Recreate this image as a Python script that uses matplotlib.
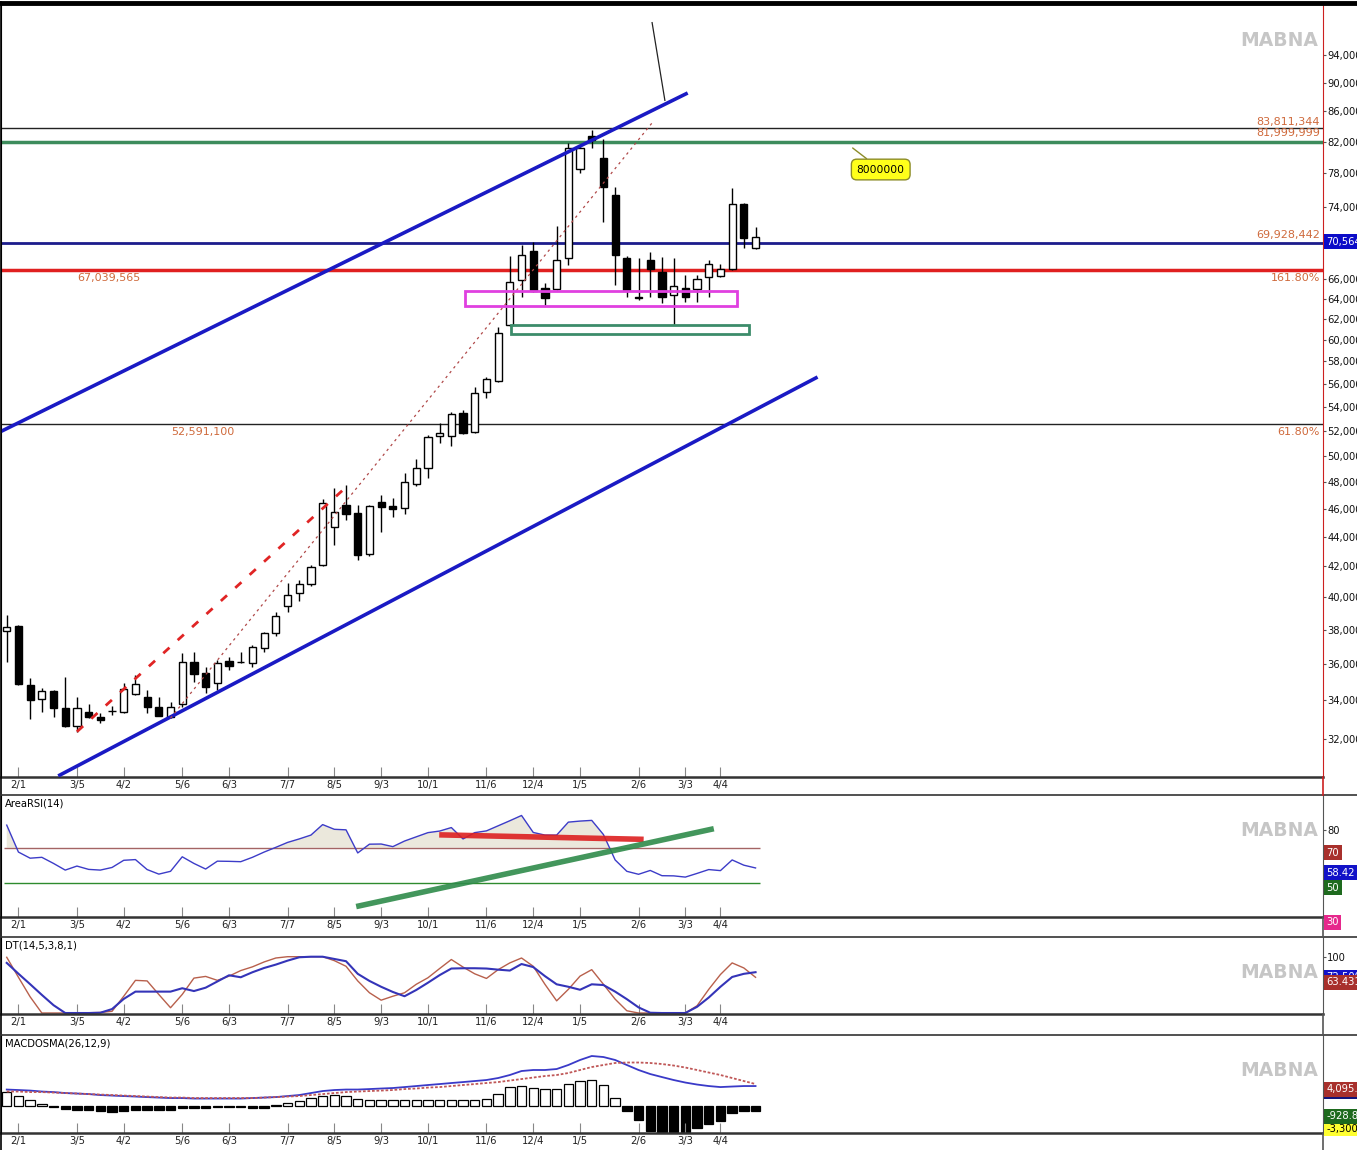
import numpy as np
import matplotlib
matplotlib.use('Agg')
import matplotlib.pyplot as plt
from matplotlib import font_manager
from matplotlib.lines import Line2D
from matplotlib.patches import Rectangle
from matplotlib.ticker import NullLocator

# weekly candles, prices in thousands
opens = [37940, 38220, 34830, 34070, 34500, 33590, 32650, 33380, 33120, 33430,
         33380, 34340, 34180, 33650, 33120, 33800, 36110, 35490, 34940, 36170,
         36110, 36060, 36920, 37810, 39440, 40260, 40820, 42080, 44680, 46250,
         45670, 42820, 46470, 46180, 46030, 47810, 49030, 51570, 51570, 53470,
         51890, 55270, 56230, 61420, 65940, 69020, 65120, 65020, 68260, 78550,
         82730, 79920, 75390, 68260, 64190, 68040, 66770, 64390, 65120, 65020,
         66260, 66360, 67080, 74330, 69340]
highs = [38900, 38300, 35220, 34670, 34550, 35270, 34180, 33800, 33330, 33700,
         34940, 35380, 34560, 34180, 33910, 36630, 36690, 35830, 36230, 36400,
         36690, 37100, 37860, 39070, 40890, 41080, 42080, 46690, 47500, 47730,
         46250, 46250, 46980, 46760, 48640, 49730, 51650, 52630, 53550, 53720,
         55700, 56590, 61230, 68480, 69670, 70010, 65640, 71800, 81830, 81440,
         83520, 82340, 76350, 68480, 68260, 68910, 68380, 68260, 66460, 66460,
         68040, 67620, 76230, 74400, 71690]
lows = [36130, 34830, 33010, 33380, 33120, 32600, 32340, 33060, 32800, 33220,
        33330, 34300, 33330, 33150, 33060, 33650, 35000, 34400, 34560, 35660,
        36060, 35830, 36690, 37630, 39070, 39750, 40700, 42010, 43430, 45170,
        42420, 42690, 44330, 45380, 45600, 47660, 48250, 51000, 50760, 51730,
        51800, 54750, 56140, 61320, 64190, 64710, 63400, 64910, 67510, 78050,
        81190, 72250, 65420, 64190, 63890, 64190, 63590, 61420, 63690, 63690,
        64190, 66260, 66990, 69340, 69230]
closes = [38180, 34890, 34020, 34500, 33590, 32650, 33590, 33120, 32960, 33450,
          34610, 34890, 33650, 33170, 33650, 36110, 35440, 34720, 36060, 35890,
          36130, 36980, 37810, 38830, 40130, 40820, 41940, 46400, 45740, 45600,
          42750, 46180, 46110, 45960, 47960, 49030, 51490, 51800, 53390, 51800,
          55180, 56410, 60660, 65740, 68590, 64810, 64090, 68040, 81190, 81190,
          82210, 76350, 68590, 64910, 64090, 67080, 64190, 65320, 64190, 66040,
          67620, 67080, 74330, 70460, 70564]

date_pos = [1, 6, 10, 15, 19, 24, 28, 32, 36, 41, 45, 49, 54, 58, 61]
date_labels = ['2/1', '3/5', '4/2', '5/6', '6/3', '7/7', '8/5', '9/3', '10/1',
               '11/6', '12/4', '1/5', '2/6', '3/3', '4/4']
price_ticks = [94000, 90000, 86000, 82000, 78000, 74000, 66000, 64000, 62000,
               60000, 58000, 56000, 54000, 52000, 50000, 48000, 46000, 44000,
               42000, 40000, 38000, 36000, 34000, 32000]

# drawings on the price chart
upper_channel = [-0.6, 51890, 58.2, 88540]
lower_channel = [4.4, 30180, 69.3, 56590]
red_dash = [6.0, 32360, 29.2, 47730]
thin_dot = [14.0, 33060, 55.15, 84450]
thin_black = [55.15, 99020, 56.26, 87430]
zone_magenta = [39.2, 62.4, 63300, 64810]
zone_green = [43.1, 63.4, 60560, 61420]

# indicators
rsi = [82.9, 67.5, 64.0, 64.5, 61.0, 57.2, 59.5, 57.6, 57.2, 58.7,
       62.8, 63.2, 57.5, 54.9, 56.5, 64.8, 61.0, 57.8, 62.3, 62.2,
       62.0, 64.5, 67.5, 70.2, 73.0, 75.0, 77.2, 83.2, 80.5, 80.2,
       67.0, 72.0, 72.1, 70.6, 73.8, 76.2, 78.6, 79.5, 81.5, 75.0,
       78.6, 79.6, 82.5, 85.4, 88.4, 78.7, 77.2, 77.2, 84.6, 85.2,
       85.6, 77.5, 63.0, 56.5, 54.8, 57.0, 54.0, 53.9, 53.2, 55.3,
       57.5, 56.9, 63.0, 60.0, 58.42]
rsi_red_line = [37.2, 77.3, 54.2, 74.8]
rsi_green_line = [30.1, 36.7, 60.2, 80.5]

dt_fast = [99, 63.5, 28.8, 0, 0, 0, 0, 0.5, 1, 3,
           29.8, 58, 57, 32.9, 9.4, 33, 62, 65, 58, 65.5,
           75.4, 82, 90.7, 97.7, 100, 100, 100, 100, 93, 83,
           57, 36, 22.8, 29.8, 36, 51, 62.6, 79, 95, 81.6,
           69.6, 61.4, 77, 89, 97.7, 83, 51, 21.6, 42, 65.5,
           77, 51, 24.6, 4, 0, 0, 0, 0, 0, 12.9,
           42, 68.4, 89, 80, 63.431]
dt_slow = [89, 69.8, 51.2, 32.2, 13.9, 0, 0, 0, 0.5, 7,
           25, 38, 38, 38, 38, 44, 39, 45, 56, 67,
           63.5, 72.4, 80, 86, 93, 99, 100, 100, 96, 92,
           69.6, 57, 46.6, 37.4, 29.8, 40.9, 53.8, 67.3, 79, 79.5,
           79.5, 79, 77, 75.4, 87, 81.6, 65.5, 51, 46.6, 41.3,
           51, 49.7, 38, 24.6, 10, 0.5, 0, 0, 0, 11,
           27.5, 46.6, 64, 69.6, 72.5]

macd = [3070, 2980, 2880, 2700, 2600, 2420, 2330, 2230, 2050, 1950,
        1860, 1770, 1670, 1580, 1490, 1490, 1400, 1400, 1400, 1400,
        1400, 1490, 1580, 1670, 1860, 2050, 2420, 2790, 2980, 3070,
        3070, 3160, 3260, 3350, 3530, 3720, 3910, 4090, 4280, 4460,
        4650, 4840, 5210, 5770, 6510, 6700, 6700, 6880, 7630, 8560,
        9300, 9110, 8560, 7630, 6700, 5950, 5390, 4840, 4370, 4000,
        3720, 3530, 3630, 3720, 3720]
signal = [2700, 2700, 2600, 2600, 2510, 2420, 2330, 2230, 2140, 2050,
          1950, 1860, 1770, 1670, 1580, 1580, 1490, 1490, 1490, 1490,
          1490, 1490, 1580, 1670, 1770, 1860, 2050, 2230, 2420, 2600,
          2700, 2790, 2880, 2980, 3160, 3260, 3440, 3530, 3720, 3910,
          4090, 4280, 4460, 4740, 5020, 5300, 5580, 5770, 6140, 6700,
          7250, 7630, 8000, 8090, 8090, 8000, 7810, 7530, 7160, 6700,
          6230, 5770, 5210, 4650, 4095.5]
osma = [2600, 1860, 1120, 370, -130, -560, -650, -740, -840, -1120,
        -930, -740, -740, -740, -740, -370, -370, -280, -190, -190,
        -190, -370, -370, 280, 560, 930, 1490, 1860, 2050, 1860,
        1300, 1120, 1120, 1120, 1120, 1120, 1120, 1120, 1210, 1210,
        1120, 1300, 2230, 3530, 3720, 3350, 3160, 3160, 4090, 4650,
        4840, 3910, 1490, -930, -2600, -4650, -4840, -4840, -4840, -4090,
        -3350, -2790, -1300, -930, -928.86]

names = {f.name for f in font_manager.fontManager.ttflist}
NARROW = 'Liberation Sans Narrow' in names
FONT = 'Liberation Sans Narrow' if NARROW else 'DejaVu Sans'
SMALL = 8.5 if NARROW else 7.2
FIB = '#cf6a3c'

W, H = 1357, 1150
fig = plt.figure(figsize=(W / 100, H / 100), dpi=100)
fig.patch.set_facecolor('white')


def box(x0, y0, x1, y1):
    return [x0 / W, 1 - y1 / H, (x1 - x0) / W, (y1 - y0) / H]


def fig_line(x0, y0, x1, y1, color='#333333', lw=1.2):
    fig.add_artist(Line2D([x0 / W, x1 / W], [1 - y0 / H, 1 - y1 / H],
                          transform=fig.transFigure, color=color, lw=lw))


ax = fig.add_axes(box(1, 4, 1323, 777))
ax_rsi = fig.add_axes(box(1, 795, 1323, 917))
ax_dt = fig.add_axes(box(1, 937, 1323, 1014))
ax_macd = fig.add_axes(box(1, 1035, 1323, 1133))

for a, rc in [(ax, '#cc2020'), (ax_rsi, '#555555'), (ax_dt, '#555555'), (ax_macd, '#555555')]:
    a.set_xlim(-0.49, 112.5)
    a.spines['top'].set_visible(False)
    a.spines['right'].set_color(rc)
    a.spines['left'].set_color('black')
    a.spines['bottom'].set_color('#333333')
    a.spines['bottom'].set_linewidth(1.8)
    a.set_xticks(date_pos)
    a.set_xticklabels(date_labels, fontsize=SMALL, fontfamily=FONT, color='#222222')
    a.tick_params(axis='x', direction='in', length=7, pad=2.5, color='#888888')
    a.yaxis.tick_right()
    a.tick_params(axis='y', direction='out', length=2, pad=1, labelsize=SMALL,
                  labelcolor='#111111', color='#555555')
    for t in a.get_yticklabels():
        t.set_fontfamily(FONT)

# ---------------- price panel ----------------
o = np.array(opens) * 1000.0
h = np.array(highs) * 1000.0
l = np.array(lows) * 1000.0
c = np.array(closes) * 1000.0
x = np.arange(len(c))
up = c >= o

ax.set_yscale('log')
ax.set_ylim(30130e3, 101870e3)
ax.yaxis.set_minor_locator(NullLocator())
ax.set_yticks([p * 1000 for p in price_ticks])
ax.set_yticklabels([f'{p * 1000:,.0f}' for p in price_ticks], fontsize=SMALL, fontfamily=FONT)

ax.vlines(x, l, h, color='black', lw=1, zorder=3)
ax.bar(x, np.abs(c - o), bottom=np.minimum(o, c), width=0.62,
       color=np.where(up, 'white', 'black'), edgecolor='black', lw=1, zorder=4)

ax.axhline(83811344, color='#222222', lw=1, zorder=2)
ax.axhline(81999999, color='#3d8c5c', lw=2.5, zorder=2)
ax.axhline(69928442, color='#1c1c8c', lw=2, zorder=2)
ax.axhline(67039565, color='#e02020', lw=2.5, zorder=2)
ax.axhline(52591100, color='#222222', lw=1, zorder=2)

ytr = ax.get_yaxis_transform()
kw = dict(xycoords=ytr, textcoords='offset points', color=FIB,
          fontsize=SMALL + 0.8, fontfamily=FONT, annotation_clip=False)
ax.annotate('83,811,344', xy=(0.9977, 83811344), xytext=(0, 0.5), ha='right', va='bottom', **kw)
ax.annotate('81,999,999', xy=(0.9977, 81999999), xytext=(0, 2.5), ha='right', va='bottom', **kw)
ax.annotate('69,928,442', xy=(0.9977, 69928442), xytext=(0, 2), ha='right', va='bottom', **kw)
ax.annotate('161.80%', xy=(0.9977, 67039565), xytext=(0, -2.5), ha='right', va='top', **kw)
ax.annotate('67,039,565', xy=(0.058, 67039565), xytext=(0, -2.5), ha='left', va='top', **kw)
ax.annotate('61.80%', xy=(0.9977, 52591100), xytext=(0, -2.5), ha='right', va='top', **kw)
ax.annotate('52,591,100', xy=(0.129, 52591100), xytext=(0, -2.5), ha='left', va='top', **kw)

for seg, col, lw, ls in [(upper_channel, '#1a1ac4', 2.6, '-'),
                         (lower_channel, '#1a1ac4', 2.6, '-'),
                         (red_dash, '#e02424', 2.0, (0, (3, 4))),
                         (thin_dot, '#b04848', 0.9, (0, (2, 3))),
                         (thin_black, '#222222', 0.9, '-')]:
    ax.plot([seg[0], seg[2]], [seg[1] * 1000, seg[3] * 1000], color=col, lw=lw,
            ls=ls, zorder=5, solid_capstyle='butt')

for z, col in [(zone_magenta, '#e040e0'), (zone_green, '#3c8c6a')]:
    ax.add_patch(Rectangle((z[0], z[2] * 1000), z[1] - z[0], (z[3] - z[2]) * 1000,
                           fill=False, ec=col, lw=2, zorder=6))

ax.annotate('8000000', xy=(72.3, 81190e3), xytext=(74.7, 78480e3), ha='center', va='center',
            fontsize=SMALL + 0.5, fontfamily=FONT, color='black',
            bbox=dict(boxstyle='round,pad=0.5', fc='#ffff1a', ec='#8c8c28', lw=1),
            arrowprops=dict(arrowstyle='-', color='#8c8c28', lw=1, shrinkA=0, shrinkB=0))


def value_box(a, y, text, fc, tc='white', z=6):
    a.annotate(text, xy=(1.0, y), xycoords=a.get_yaxis_transform(), xytext=(2.5, 0),
               textcoords='offset points', ha='left', va='top', fontsize=SMALL,
               fontfamily=FONT, color=tc, zorder=z, annotation_clip=False,
               bbox=dict(boxstyle='square,pad=0.25', fc=fc, ec='none'))


value_box(ax, closes[-1] * 1000, f'{closes[-1] * 1000:,.0f}', '#0c0cc8')

# ---------------- AreaRSI ----------------
r = np.array(rsi)
ax_rsi.set_ylim(30.4, 100.1)
ax_rsi.set_yticks([80])
ax_rsi.fill_between(x, r, 70, where=r > 70, interpolate=True, color='#ebe8dc', lw=0)
ax_rsi.hlines(70, -0.2, 64.4, color='#a46464', lw=1)
ax_rsi.hlines(50, -0.2, 64.4, color='#2e8b2e', lw=1)
ax_rsi.plot(x, r, color='#3c3cc8', lw=1)
ax_rsi.plot(rsi_red_line[0::2], rsi_red_line[1::2], color='#dd2020', lw=4, alpha=0.9)
ax_rsi.plot(rsi_green_line[0::2], rsi_green_line[1::2], color='#2e8b4a', lw=4, alpha=0.9)
ax_rsi.text(0.003, 0.97, 'AreaRSI(14)', transform=ax_rsi.transAxes, ha='left', va='top',
            fontsize=SMALL, fontfamily=FONT)
value_box(ax_rsi, 70, '70', '#a8302c', z=6)
value_box(ax_rsi, 58.42, '58.42', '#1212c8', z=7)
value_box(ax_rsi, 50, '50', '#1e6a1e', z=8)
value_box(ax_rsi, 30.4, '30', '#e6288c', z=8)

# ---------------- DT ----------------
ax_dt.set_ylim(-1.75, 135)
ax_dt.set_yticks([100])
ax_dt.plot(x, dt_fast, color='#b8604c', lw=1)
ax_dt.plot(x, dt_slow, color='#3434b8', lw=1.5)
ax_dt.text(0.003, 0.96, 'DT(14,5,3,8,1)', transform=ax_dt.transAxes, ha='left', va='top',
           fontsize=SMALL, fontfamily=FONT)
value_box(ax_dt, dt_slow[-1], f'{dt_slow[-1]:.3f}', '#1212c8', z=6)
value_box(ax_dt, dt_fast[-1], f'{dt_fast[-1]:.3f}', '#a8302c', z=7)

# ---------------- MACDOSMA ----------------
hist = np.array(osma)
ax_macd.set_ylim(-5000, 13200)
ax_macd.set_yticks([])
ax_macd.bar(x, hist, width=0.8, color=np.where(hist > 0, 'white', 'black'),
            edgecolor='black', lw=0.9)
ax_macd.plot(x, macd, color='#3a3ac8', lw=1.3)
ax_macd.plot(x, signal, color='#c05858', lw=1.3, ls=(0, (1.5, 1)))
ax_macd.text(0.003, 0.96, 'MACDOSMA(26,12,9)', transform=ax_macd.transAxes, ha='left',
             va='top', fontsize=SMALL, fontfamily=FONT)
value_box(ax_macd, -3300, '-3,300', '#ffff30', tc='black', z=5)
value_box(ax_macd, macd[-1], f'{macd[-1]:,.1f}', '#14147a', z=6)
value_box(ax_macd, signal[-1], f'{signal[-1]:,.1f}', '#a8302c', z=7)
value_box(ax_macd, osma[-1], f'{osma[-1]:,.2f}', '#1e6a1e', z=8)

# watermarks
for a, yy in [(ax, 0.953), (ax_rsi, 0.713), (ax_dt, 0.545), (ax_macd, 0.633)]:
    a.text(0.9667, yy, 'MABNA', transform=a.transAxes, ha='center', va='center',
           fontsize=17 if NARROW else 13.5, fontweight='bold', color='#c6c6c6',
           fontfamily=FONT, zorder=1)

# frame lines
fig_line(0, 2.5, W, 2.5, color='black', lw=3.5)
fig_line(1, 2, 1, H, color='black', lw=1.2)
fig_line(0, 795, W, 795)
fig_line(0, 937, W, 937)
fig_line(0, 1035, W, 1035)
fig_line(1323, 777, 1323, 795, color='#cc2020')
fig_line(1323, 917, 1323, 937, color='#555555')
fig_line(1323, 1014, 1323, 1035, color='#555555')
fig_line(1323, 1133, 1323, H, color='#555555')

fig.savefig('out.png', dpi=100)
